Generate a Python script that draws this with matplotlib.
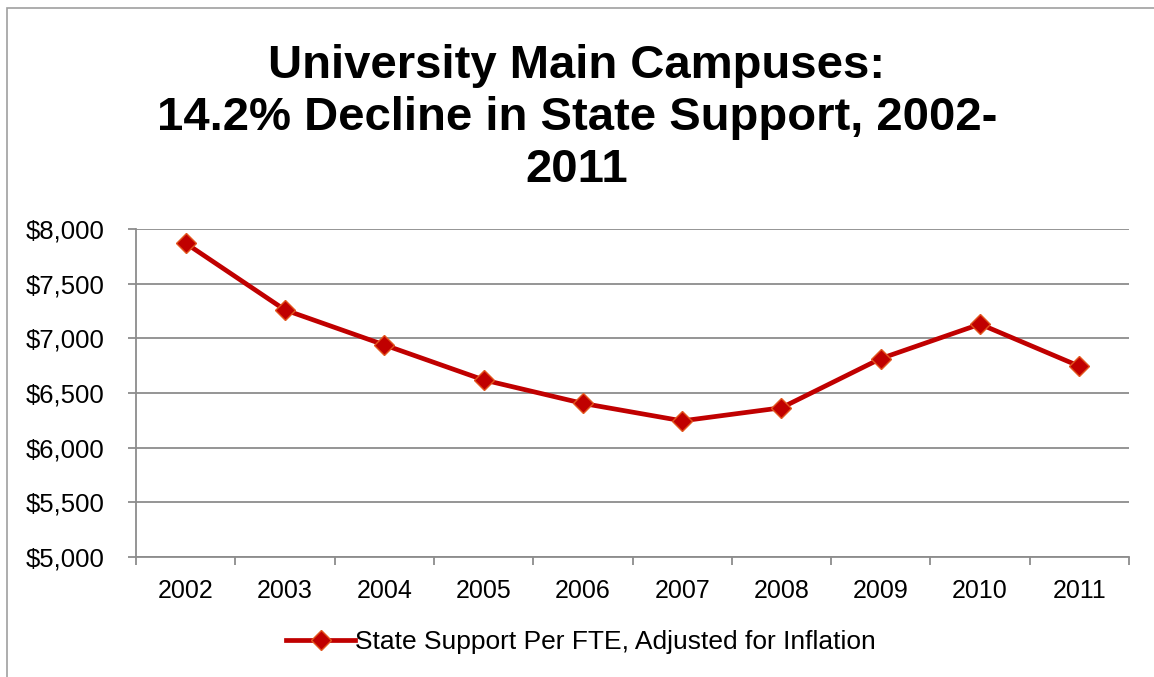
import matplotlib
matplotlib.use('Agg')
import matplotlib.pyplot as plt
from matplotlib.ticker import FuncFormatter, MultipleLocator
import matplotlib.patches as patches

years = ['2002', '2003', '2004', '2005', '2006', '2007', '2008', '2009', '2010', '2011']
support = [7870, 7260, 6940, 6620, 6405, 6245, 6365, 6815, 7130, 6745]
series_label = 'State Support Per FTE, Adjusted for Inflation'
title = 'University Main Campuses:\n14.2% Decline in State Support, 2002-\n2011'

plt.rcParams['font.family'] = ['Liberation Sans', 'DejaVu Sans']

fig = plt.figure(figsize=(11.54, 6.77), dpi=100)
ax = fig.add_axes([136 / 1154, 1 - 557 / 677, (1129 - 136) / 1154, (557 - 229) / 677])

x = list(range(len(years)))
ax.plot(x, support, color='#C00000', lw=3.4, marker='D', ms=10.5,
        mfc='#C00000', mec='#E2561E', mew=1.0, label=series_label, zorder=3)

ax.set_xlim(-0.5, len(years) - 0.5)
ax.set_ylim(5000, 8000)
ax.yaxis.set_major_locator(MultipleLocator(500))
ax.yaxis.set_major_formatter(FuncFormatter(lambda v, p: '${:,.0f}'.format(v)))
ax.grid(axis='y', color='#8c8c8c', lw=1.3)
ax.set_axisbelow(True)

ax.set_xticks(x)
ax.set_xticklabels(years)
ax.set_xticks([i - 0.5 for i in range(len(years) + 1)], minor=True)
ax.tick_params(axis='x', which='major', length=0, pad=16, labelsize=18)
ax.tick_params(axis='x', which='minor', length=6, color='#8c8c8c', width=1.3)
ax.tick_params(axis='y', length=6, color='#8c8c8c', width=1.3, labelsize=18.5, pad=17, direction='out')

for s in ['top', 'right']:
    ax.spines[s].set_visible(False)
for s in ['left', 'bottom']:
    ax.spines[s].set_color('#8c8c8c')
    ax.spines[s].set_linewidth(1.3)

fig.text(0.5, 1 - 118 / 677, title, ha='center', va='center', fontsize=34,
         fontweight='bold', linespacing=1.24)

leg = fig.legend(loc='center', bbox_to_anchor=(581 / 1154, 1 - 642 / 677), frameon=False,
                 fontsize=19, handlelength=2.6, handletextpad=0.0)

# outer chart border (left and top visible)
fig.add_artist(patches.Rectangle((7 / 1154, -0.01), 1.1, 1 - 8 / 677 + 0.01,
                                 transform=fig.transFigure, fill=False,
                                 edgecolor='#a0a0a0', lw=1.2))

fig.savefig('out.png', dpi=100)
